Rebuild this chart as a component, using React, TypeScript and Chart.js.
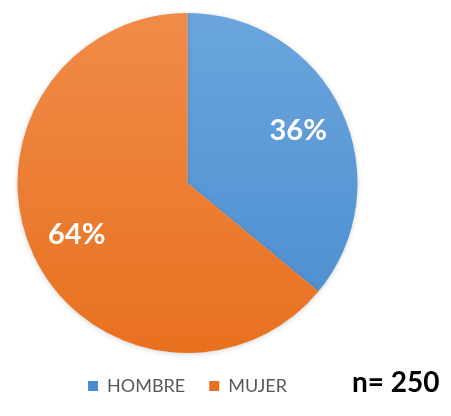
import React, { useEffect, useRef } from "react";
import { Chart, registerables } from "chart.js";

Chart.register(...registerables);

const categories = ["HOMBRE", "MUJER"];
const counts = [90, 160];
const sliceColorsTop = ["#6aa5dd", "#f08b48"];
const sliceColorsBottom = ["#4a8cd0", "#e8711f"];

const total = counts.reduce((a, b) => a + b, 0);

const labelPlugin = {
  id: "pctLabels",
  afterDatasetsDraw(chart: any) {
    const { ctx } = chart;
    const meta = chart.getDatasetMeta(0);
    const data = chart.data.datasets[0].data as number[];
    const sum = data.reduce((a, b) => a + b, 0);
    ctx.save();
    ctx.fillStyle = "#ffffff";
    ctx.font = "bold 29px Lato, 'Open Sans', sans-serif";
    ctx.textAlign = "center";
    ctx.textBaseline = "middle";
    meta.data.forEach((arc: any, i: number) => {
      const { x, y, startAngle, endAngle, outerRadius } = arc.getProps(
        ["x", "y", "startAngle", "endAngle", "outerRadius"],
        true
      );
      const mid = (startAngle + endAngle) / 2;
      const r = outerRadius * 0.72;
      const pct = Math.round((data[i] / sum) * 100) + "%";
      ctx.fillText(pct, x + Math.cos(mid) * r, y + Math.sin(mid) * r);
    });
    ctx.restore();
  },
};

const shadowPlugin = {
  id: "softShadow",
  beforeDatasetsDraw(chart: any) {
    const ctx = chart.ctx;
    ctx.save();
    ctx.shadowColor = "rgba(0,0,0,0.18)";
    ctx.shadowBlur = 5;
    ctx.shadowOffsetX = 0;
    ctx.shadowOffsetY = 1;
  },
  afterDatasetsDraw(chart: any) {
    chart.ctx.restore();
  },
};

export default function App() {
  const canvasRef = useRef<HTMLCanvasElement | null>(null);

  useEffect(() => {
    if (!canvasRef.current) return;
    const makeBg = (i: number) => (c: any) => {
      const chart = c.chart;
      const area = chart.chartArea;
      if (!area) return sliceColorsBottom[i];
      const g = chart.ctx.createLinearGradient(0, area.top, 0, area.bottom);
      g.addColorStop(0, sliceColorsTop[i]);
      g.addColorStop(1, sliceColorsBottom[i]);
      return g;
    };
    const chart = new Chart(canvasRef.current, {
      type: "pie",
      data: {
        labels: categories,
        datasets: [
          {
            data: counts,
            backgroundColor: (c: any) => makeBg(c.dataIndex)(c),
            borderWidth: 0,
          },
        ],
      },
      options: {
        responsive: true,
        maintainAspectRatio: false,
        animation: false,
        layout: { padding: { top: 13, bottom: 11, left: 0, right: 11 } },
        plugins: {
          tooltip: { enabled: false },
          legend: {
            display: true,
            position: "bottom",
            labels: {
              boxWidth: 10,
              boxHeight: 10,
              padding: 24,
              color: "#595959",
              font: { size: 18, family: "Lato, 'Open Sans', sans-serif" },
            },
          },
        },
      },
      plugins: [shadowPlugin, labelPlugin],
    });
    return () => chart.destroy();
  }, []);

  return (
    <div
      style={{
        position: "absolute",
        left: 0,
        top: 0,
        width: 451,
        height: 416,
        background: "#ffffff",
        overflow: "hidden",
      }}
    >
      <div style={{ position: "absolute", left: 0, top: 0, width: 386, height: 416 }}>
        <canvas ref={canvasRef} />
      </div>
      <div
        style={{
          position: "absolute",
          left: 352,
          top: 367,
          fontFamily: "Lato, 'Open Sans', sans-serif",
          fontWeight: 700,
          fontSize: 28,
          lineHeight: "28px",
          color: "#000000",
          whiteSpace: "nowrap",
        }}
      >
        n= {total}
      </div>
    </div>
  );
}
